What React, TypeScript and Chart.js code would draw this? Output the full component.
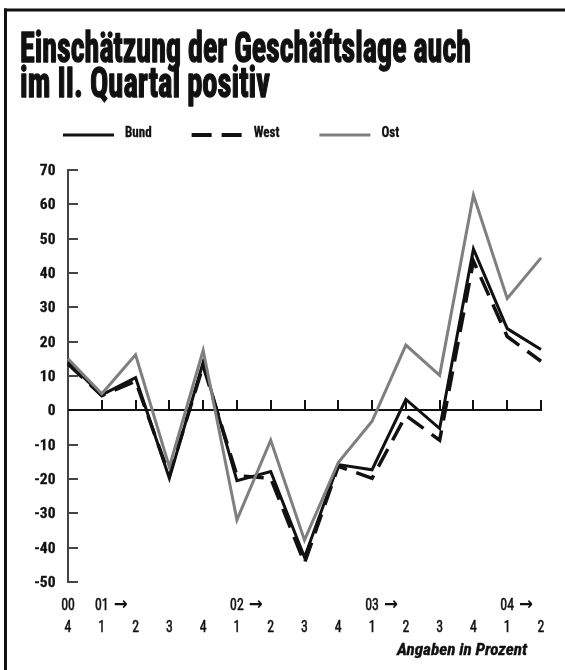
import React, { useEffect, useRef } from 'react';
import { Chart, registerables } from 'chart.js';

Chart.register(...registerables);

// ---------- data ----------
const quarterLabels = ['4', '1', '2', '3', '4', '1', '2', '3', '4', '1', '2', '3', '4', '1', '2'];
const yearLabels = ['00', '01 →', '', '', '', '02 →', '', '', '', '03 →', '', '', '', '04 →', ''];
const bund = [14, 4.5, 9.5, -19.8, 14, -20.5, -17.8, -42.8, -15.8, -17.3, 3.2, -5.3, 47, 23.8, 17.7];
const west = [13.5, 4.3, 8.5, -19, 13, -19, -19.8, -44.5, -16.3, -19.8, -1.5, -8.7, 43.5, 21.5, 14.3];
const ost = [15, 4.8, 16.2, -16.5, 17.5, -31.9, -8.7, -37.8, -15.2, -3.2, 19, 10.2, 62.7, 32.6, 44.4];
const seriesNames = ['Bund', 'West', 'Ost'];
const titleLines = ['Einschätzung der Geschäftslage auch', 'im II. Quartal positiv'];
const noteText = 'Angaben in Prozent';
const yMin = -50;
const yMax = 70;
const yStep = 10;

const COND = '"Roboto Condensed", "DejaVu Sans Condensed", sans-serif';
const INK = '#111111';
const GREY = '#7f7f7f';

function line(ctx: CanvasRenderingContext2D, x1: number, y1: number, x2: number, y2: number) {
  ctx.beginPath();
  ctx.moveTo(x1, y1);
  ctx.lineTo(x2, y2);
  ctx.stroke();
}

// draws text squeezed horizontally by sx; returns drawn width
function drawText(
  ctx: CanvasRenderingContext2D,
  text: string,
  x: number,
  y: number,
  font: string,
  sx: number,
  align: 'left' | 'center' | 'right',
  stroke = 0,
) {
  ctx.font = font;
  const w = ctx.measureText(text).width * sx;
  const x0 = align === 'left' ? x : align === 'center' ? x - w / 2 : x - w;
  ctx.save();
  ctx.translate(x0, y);
  ctx.scale(sx, 1);
  ctx.textAlign = 'left';
  ctx.textBaseline = 'alphabetic';
  ctx.fillText(text, 0, 0);
  if (stroke > 0) {
    ctx.strokeStyle = ctx.fillStyle as string;
    ctx.lineWidth = stroke;
    ctx.lineJoin = 'round';
    ctx.strokeText(text, 0, 0);
  }
  ctx.restore();
  return w;
}

const decorPlugin = {
  id: 'decor',
  beforeDraw(chart: any) {
    const ctx: CanvasRenderingContext2D = chart.ctx;
    ctx.save();
    ctx.fillStyle = '#ffffff';
    ctx.fillRect(0, 0, chart.width, chart.height);
    // frame (top + left)
    ctx.fillStyle = INK;
    ctx.fillRect(4, 8.5, chart.width - 4, 3);
    ctx.fillRect(4, 8.5, 3, chart.height);
    // title, condensed to fit
    const baselines = [62, 97];
    const widths = [451, 250];
    const tFont = `bold 43px ${COND}`;
    titleLines.forEach((t, i) => {
      ctx.font = tFont;
      const w = ctx.measureText(t).width;
      drawText(ctx, t, 20, baselines[i], tFont, widths[i] / w, 'left', 1.4);
    });
    // legend
    let x = 63;
    const ly = 135;
    chart.data.datasets.forEach((ds: any) => {
      ctx.save();
      ctx.strokeStyle = ds.borderColor;
      ctx.lineWidth = ds.label === 'West' ? 4 : 3;
      ctx.setLineDash(ds.borderDash || []);
      line(ctx, x, ly, x + 51, ly);
      ctx.restore();
      x += 51 + 11;
      ctx.fillStyle = INK;
      const w = drawText(ctx, ds.label, x, 137, `bold 15px ${COND}`, 0.87, 'left', 0.3);
      x += w + 40;
    });
    ctx.restore();
  },
  beforeDatasetsDraw(chart: any) {
    const ctx: CanvasRenderingContext2D = chart.ctx;
    const { left, right } = chart.chartArea;
    const xs = chart.scales.x;
    const ys = chart.scales.y;
    ctx.save();
    ctx.lineWidth = 2;
    ctx.strokeStyle = '#444444';
    ys.ticks.forEach((t: any) => {
      const py = Math.round(ys.getPixelForValue(t.value));
      line(ctx, left, py, left + 10, py);
    });
    const y0 = Math.round(ys.getPixelForValue(0));
    ctx.strokeStyle = INK;
    line(ctx, left, y0, right + 1, y0);
    for (let i = 1; i < quarterLabels.length; i++) {
      const px = Math.round(xs.getPixelForValue(i));
      line(ctx, px, y0, px, y0 - 10);
    }
    ctx.restore();
  },
  afterDraw(chart: any) {
    const ctx: CanvasRenderingContext2D = chart.ctx;
    const xs = chart.scales.x;
    const ys = chart.scales.y;
    ctx.save();
    ctx.fillStyle = INK;
    // y tick labels
    ys.ticks.forEach((t: any) => {
      const py = ys.getPixelForValue(t.value);
      drawText(ctx, String(t.value), 55.5, py + 5, `bold 15.5px ${COND}`, 1, 'right', 0.3);
    });
    // x labels
    const xFont = `16.5px ${COND}`;
    quarterLabels.forEach((q, i) => {
      drawText(ctx, q, xs.getPixelForValue(i), 632, xFont, 0.84, 'center', 0.5);
    });
    yearLabels.forEach((y, i) => {
      if (!y) return;
      const parts = y.split(' ');
      const yr = parts[0];
      const rest = parts.slice(1).join(' ');
      const px = xs.getPixelForValue(i);
      const w = drawText(ctx, yr, px, 610, xFont, 0.84, 'center', 0.5);
      if (rest) {
        const aFont = `bold 18px "DejaVu Sans", sans-serif`;
        ctx.font = aFont;
        const aw = ctx.measureText(rest).width;
        drawText(ctx, rest, px + w / 2 + 5, 610, aFont, 14 / aw, 'left');
      }
    });
    // note
    const nFont = `italic bold 17px ${COND}`;
    ctx.font = nFont;
    const nw = ctx.measureText(noteText).width;
    drawText(ctx, noteText, 527, 655, nFont, 130 / nw, 'right', 0.4);
    ctx.restore();
  },
};

export default function App() {
  const ref = useRef<HTMLCanvasElement | null>(null);
  useEffect(() => {
    if (!ref.current) return;
    const chart = new Chart(ref.current, {
      type: 'line',
      data: {
        labels: quarterLabels,
        datasets: [
          {
            label: seriesNames[0],
            data: bund,
            borderColor: INK,
            borderWidth: 3,
            pointRadius: 0,
            tension: 0,
            order: 1,
          },
          {
            label: seriesNames[1],
            data: west,
            borderColor: INK,
            borderWidth: 3.5,
            borderDash: [20, 10],
            pointRadius: 0,
            tension: 0,
            order: 2,
          },
          {
            label: seriesNames[2],
            data: ost,
            borderColor: GREY,
            borderWidth: 3,
            pointRadius: 0,
            tension: 0,
            order: 0,
          },
        ],
      },
      options: {
        animation: false,
        responsive: false,
        devicePixelRatio: 1,
        layout: { padding: { left: 8, top: 170, right: 24, bottom: 88 } },
        plugins: {
          legend: { display: false },
          title: { display: false },
          tooltip: { enabled: false },
        },
        scales: {
          x: { type: 'category', display: false, offset: false },
          y: {
            min: yMin,
            max: yMax,
            ticks: { stepSize: yStep, display: false },
            grid: { display: false, drawTicks: false },
            border: { display: true, color: '#444444', width: 2 },
            afterFit(scale: any) {
              scale.width = 60;
            },
          },
        },
      } as any,
      plugins: [decorPlugin],
    });
    return () => chart.destroy();
  }, []);
  return (
    <div style={{ position: 'fixed', left: 0, top: 0, width: 565, height: 670 }}>
      <canvas ref={ref} width={565} height={670} style={{ display: 'block' }} />
    </div>
  );
}
